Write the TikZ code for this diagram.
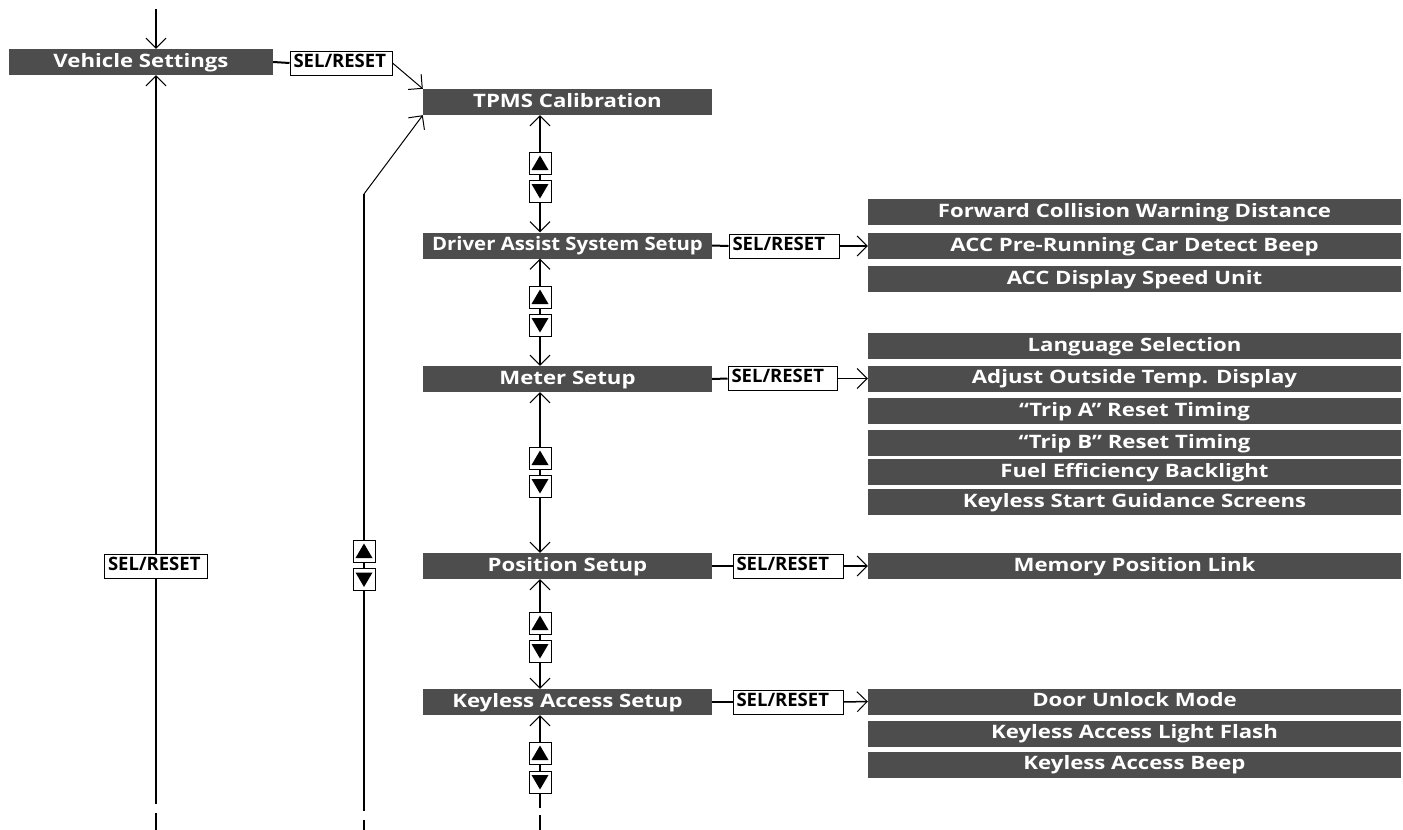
\documentclass[tikz,border=0pt]{standalone}
\usepackage{fontspec}
\setmainfont{Open Sans}
\newfontfamily\barfont{Open Sans}[FakeStretch=1.2]
\newfontfamily\narrowbarfont{Open Sans}[FakeStretch=1.1]
\usetikzlibrary{arrows.meta}
\definecolor{bargray}{HTML}{4D4D4D}
\tikzset{
  x=1pt, y=-1pt,
  >={Straight Barb[length=10pt,width=20pt,line width=1pt]},
  bar/.style={fill=bargray, text=white, font=\barfont\fontsize{18.5}{20}\selectfont\bfseries,
    minimum height=26pt, inner sep=0pt, text height=13.5pt, text depth=3.5pt, anchor=center},
  mainbar/.style={bar, minimum width=289pt},
  subbar/.style={bar, minimum width=533pt},
  selbox/.style={draw, line width=1pt, fill=white, text=black,
    font=\fontsize{18.5}{20}\selectfont\bfseries, inner xsep=3.5pt, inner ysep=0pt,
    text height=13pt, text depth=4.5pt,
    minimum height=24pt, text width=#1, align=left},
  keybox/.style={draw, line width=1pt, fill=white, minimum size=22pt, inner sep=0pt},
  upbox/.style={keybox, path picture={
      \fill[black] ([shift={(0,-7.5)}]path picture bounding box.center)
        -- ++(8.5,14.5) -- ++(-17,0) -- cycle;}},
  dnbox/.style={keybox, path picture={
      \fill[black] ([shift={(0,7.5)}]path picture bounding box.center)
        -- ++(8.5,-14.5) -- ++(-17,0) -- cycle;}},
  conn/.style={line width=2pt},
  thinconn/.style={line width=1pt},
  midconn/.style={line width=1.5pt},
}
\begin{document}
\begin{tikzpicture}
\useasboundingbox (0,0) rectangle (1403,830);

% main bars
\node[bar, minimum width=264pt] (veh) at (141,62) {Vehicle Settings};
\node[mainbar] (tpms) at (567.5,102) {TPMS Calibration};
\node[mainbar, font=\narrowbarfont\fontsize{18.5}{20}\selectfont\bfseries] (das) at (567.5,245.5) {Driver Assist System Setup};
\node[mainbar] (met) at (567.5,379) {Meter Setup};
\node[mainbar] (pos) at (567.5,566) {Position Setup};
\node[mainbar] (kas) at (567.5,702) {Keyless Access Setup};

% SEL/RESET boxes
\node[selbox=95pt] (vsel) at (341,63) {SEL/RESET};
\node[selbox=96pt] (lsel) at (156,566) {SEL/RESET};
\node[selbox=103pt] (dsel) at (784,246) {SEL/RESET};
\node[selbox=102pt] (msel) at (782.5,378.5) {SEL/RESET};
\node[selbox=103pt] (psel) at (788,566) {SEL/RESET};
\node[selbox=103pt] (ksel) at (788,702) {SEL/RESET};

% sub items
\node[subbar] (fcw) at (1134.5,212) {Forward Collision Warning Distance};
\node[subbar] (accb) at (1134.5,246) {ACC Pre-Running Car Detect Beep};
\node[subbar] (accd) at (1134.5,279) {ACC Display Speed Unit};
\node[subbar] (lang) at (1134.5,346) {Language Selection};
\node[subbar] (adj) at (1134.5,378.5) {Adjust Outside Temp. Display};
\node[subbar] (tripa) at (1134.5,411) {“Trip A” Reset Timing};
\node[subbar] (tripb) at (1134.5,443) {“Trip B” Reset Timing};
\node[subbar] (fuel) at (1134.5,472) {Fuel Efficiency Backlight};
\node[subbar] (kss) at (1134.5,502) {Keyless Start Guidance Screens};
\node[subbar] (mpl) at (1134.5,566) {Memory Position Link};
\node[subbar] (dum) at (1134.5,701.5) {Door Unlock Mode};
\node[subbar] (kalf) at (1134.5,733.5) {Keyless Access Light Flash};
\node[subbar] (kab) at (1134.5,764.5) {Keyless Access Beep};

% up/down boxes
\node[upbox] (u0) at (364,551) {};
\node[dnbox] (d0) at (364,579.5) {};
\node[upbox] (u1) at (540,163) {};
\node[dnbox] (d1) at (540,191) {};
\node[upbox] (u2) at (540,297) {};
\node[dnbox] (d2) at (540,325) {};
\node[upbox] (u3) at (540,458) {};
\node[dnbox] (d3) at (540,486) {};
\node[upbox] (u4) at (540,623) {};
\node[dnbox] (d4) at (540,651) {};
\node[upbox] (u5) at (540,753) {};
\node[dnbox] (d5) at (540,782) {};

% free ends
\coordinate (top) at (156,9);
\coordinate (lend) at (156,804);
\coordinate (ld1) at (156,813);
\coordinate (ld2) at (156,830);
\coordinate (bend) at (364,194);
\coordinate (mend) at (364,811);
\coordinate (md1) at (364,820);
\coordinate (md2) at (364,830);
\coordinate (rend) at (540,808);
\coordinate (rd1) at (540,815);
\coordinate (rd2) at (540,830);

% left column
\draw[conn,->] (top) -- (top |- veh.north);
\draw[conn,->] (lsel.north) -- (lsel.north |- veh.south);
\draw[conn] (lsel.south) -- (lend);
\draw[conn] (ld1) -- (ld2);
\draw[conn] (veh.east) -- (vsel.west);
\draw[thinconn,->] (vsel.east) -- (tpms.north west);

% middle column
\draw[conn] (u0.north) -- (bend);
\draw[thinconn,->] (bend) -- (tpms.south west);
\draw[conn] (u0.south) -- (d0.north);
\draw[conn] (d0.south) -- (mend);
\draw[conn] (md1) -- (md2);

% right column
\draw[conn,->] (u1.north) -- (u1.north |- tpms.south);
\draw[conn] (u1.south) -- (d1.north);
\draw[conn,->] (d1.south) -- (d1.south |- das.north);
\draw[conn,->] (u2.north) -- (u2.north |- das.south);
\draw[conn] (u2.south) -- (d2.north);
\draw[conn,->] (d2.south) -- (d2.south |- met.north);
\draw[conn,->] (u3.north) -- (u3.north |- met.south);
\draw[conn] (u3.south) -- (d3.north);
\draw[conn,->] (d3.south) -- (d3.south |- pos.north);
\draw[conn,->] (u4.north) -- (u4.north |- pos.south);
\draw[conn] (u4.south) -- (d4.north);
\draw[conn,->] (d4.south) -- (d4.south |- kas.north);
\draw[conn,->] (u5.north) -- (u5.north |- kas.south);
\draw[conn] (u5.south) -- (d5.north);
\draw[conn] (d5.south) -- (rend);
\draw[conn] (rd1) -- (rd2);

% horizontal links
\draw[conn] (das.east) -- (dsel.west);
\draw[midconn,->] (dsel.east) -- (accb.west);
\draw[conn] (met.east) -- (msel.west);
\draw[midconn,->] (msel.east) -- (adj.west);
\draw[conn] (pos.east) -- (psel.west);
\draw[midconn,->] (psel.east) -- (mpl.west);
\draw[conn] (kas.east) -- (ksel.west);
\draw[midconn,->] (ksel.east) -- (dum.west);
\end{tikzpicture}
\end{document}
